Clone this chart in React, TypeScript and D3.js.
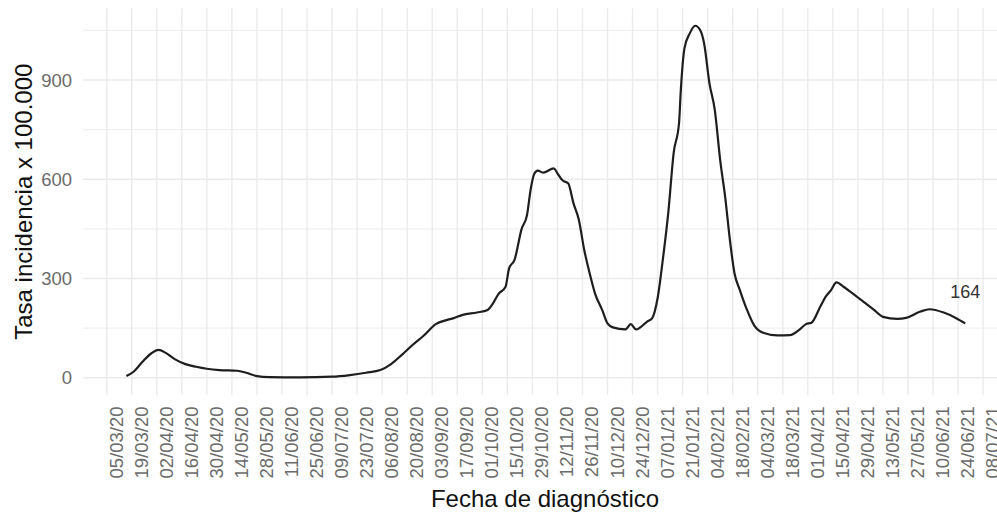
import * as d3 from 'd3';

// fechas de diagnóstico (dd/mm/yy) y tasa x 100.000
const dates = [
  '16/03/20', '20/03/20', '25/03/20', '30/03/20', '03/04/20', '07/04/20', '12/04/20', '18/04/20',
  '24/04/20', '30/04/20', '07/05/20', '17/05/20', '22/05/20', '28/05/20', '04/06/20', '21/06/20',
  '09/07/20', '19/07/20', '28/07/20', '05/08/20', '11/08/20', '17/08/20', '23/08/20', '29/08/20',
  '05/09/20', '11/09/20', '15/09/20', '20/09/20', '28/09/20', '04/10/20', '07/10/20', '10/10/20',
  '14/10/20', '16/10/20', '19/10/20', '23/10/20', '26/10/20', '28/10/20', '30/10/20', '01/11/20',
  '04/11/20', '10/11/20', '12/11/20', '15/11/20', '18/11/20', '21/11/20', '24/11/20', '27/11/20',
  '30/11/20', '03/12/20', '07/12/20', '10/12/20', '13/12/20', '20/12/20', '23/12/20', '26/12/20',
  '01/01/21', '04/01/21', '07/01/21', '10/01/21', '13/01/21', '16/01/21', '19/01/21', '20/01/21',
  '22/01/21', '25/01/21', '28/01/21', '31/01/21', '02/02/21', '05/02/21', '08/02/21', '11/02/21',
  '14/02/21', '16/02/21', '19/02/21', '22/02/21', '26/02/21', '02/03/21', '07/03/21', '15/03/21',
  '22/03/21', '27/03/21', '31/03/21', '03/04/21', '08/04/21', '11/04/21', '14/04/21', '17/04/21',
  '21/04/21', '26/04/21', '02/05/21', '08/05/21', '13/05/21', '21/05/21', '26/05/21', '03/06/21',
  '08/06/21', '16/06/21', '23/06/21', '28/06/21',
];

const rates = [
  5, 18, 48, 74, 84, 75, 56, 41,
  33, 27, 23, 21, 15, 5, 2, 1,
  3, 8, 15, 23, 41, 69, 99, 126,
  162, 174, 180, 190, 197, 205, 225, 253,
  275, 331, 356, 450, 492, 568, 616, 626,
  620, 633, 618, 596, 588, 527, 477, 386,
  316, 255, 205, 164, 152, 146, 162, 146,
  169, 180, 240, 360, 500, 680, 770, 870,
  995, 1041, 1064, 1049, 1011, 890, 809, 658,
  537, 437, 316, 265, 205, 158, 136, 128,
  129, 144, 162, 166, 215, 245, 265, 288,
  275, 255, 230, 205, 184, 178, 181, 200,
  207, 197, 180, 164,
];

const xTicks = [
  '05/03/20', '19/03/20', '02/04/20', '16/04/20', '30/04/20', '14/05/20', '28/05/20', '11/06/20',
  '25/06/20', '09/07/20', '23/07/20', '06/08/20', '20/08/20', '03/09/20', '17/09/20', '01/10/20',
  '15/10/20', '29/10/20', '12/11/20', '26/11/20', '10/12/20', '24/12/20', '07/01/21', '21/01/21',
  '04/02/21', '18/02/21', '04/03/21', '18/03/21', '01/04/21', '15/04/21', '29/04/21', '13/05/21',
  '27/05/21', '10/06/21', '24/06/21', '08/07/21',
];

const yMajor = [0, 300, 600, 900];
const yMinor = [150, 450, 750, 1050];

const lastLabel = '164';

const W = 997;
const H = 513;

export default function App() {
  const parse = d3.utcParse('%d/%m/%y');
  const series = dates.map((d, i) => ({ date: parse(d) as Date, v: rates[i] }));
  const tickDates = xTicks.map((t) => parse(t) as Date);

  const x = d3
    .scaleUtc()
    .domain([tickDates[0], tickDates[tickDates.length - 1]])
    .range([106.7, 983.1]);

  const y = d3.scaleLinear().domain([0, 900]).range([377.7, 80]);

  const panelTop = y(1117);
  const panelBottom = y(-53);
  const panelLeft = 83;
  const panelRight = W;

  const line = d3
    .line<{ date: Date; v: number }>()
    .x((d) => x(d.date))
    .y((d) => y(d.v))
    .curve(d3.curveMonotoneX);

  const last = series[series.length - 1];
  const font = '"Liberation Sans", Arial, sans-serif';

  return (
    <svg
      width={W}
      height={H}
      style={{ position: 'absolute', left: 0, top: 0, background: '#fff' }}
      fontFamily={font}
    >
      {/* grid */}
      {yMinor.map((t) => (
        <line key={'mi' + t} x1={panelLeft} x2={panelRight} y1={y(t)} y2={y(t)} stroke="#f0f0f0" strokeWidth={1.2} />
      ))}
      {yMajor.map((t) => (
        <line key={'ma' + t} x1={panelLeft} x2={panelRight} y1={y(t)} y2={y(t)} stroke="#ebebeb" strokeWidth={1.4} />
      ))}
      {tickDates.map((t, i) => (
        <line key={'vx' + i} x1={x(t)} x2={x(t)} y1={panelTop} y2={panelBottom} stroke="#ebebeb" strokeWidth={1.4} />
      ))}

      {/* line */}
      <path d={line(series) ?? ''} fill="none" stroke="#1e1e1e" strokeWidth={2.2} strokeLinejoin="round" />

      {/* end label */}
      <text x={x(last.date)} y={298} textAnchor="middle" fontSize={18} fill="#333">
        {lastLabel}
      </text>

      {/* y tick labels */}
      {yMajor.map((t) => (
        <text key={'yl' + t} x={72} y={y(t)} dy="0.36em" textAnchor="end" fontSize={18.5} fill="#6b6b6b">
          {t}
        </text>
      ))}

      {/* x tick labels */}
      {tickDates.map((t, i) => (
        <text
          key={'xl' + i}
          transform={`translate(${x(t) + 16},406.5) rotate(-90)`}
          textAnchor="end"
          fontSize={18.5}
          fill="#6b6b6b"
        >
          {xTicks[i]}
        </text>
      ))}

      {/* axis titles */}
      <text x={545} y={506.5} textAnchor="middle" fontSize={24} fill="#111">
        Fecha de diagnóstico
      </text>
      <text
        transform={`translate(31.5,${(panelTop + panelBottom) / 2}) rotate(-90)`}
        textAnchor="middle"
        fontSize={24}
        fill="#111"
      >
        Tasa incidencia x 100.000
      </text>
    </svg>
  );
}
